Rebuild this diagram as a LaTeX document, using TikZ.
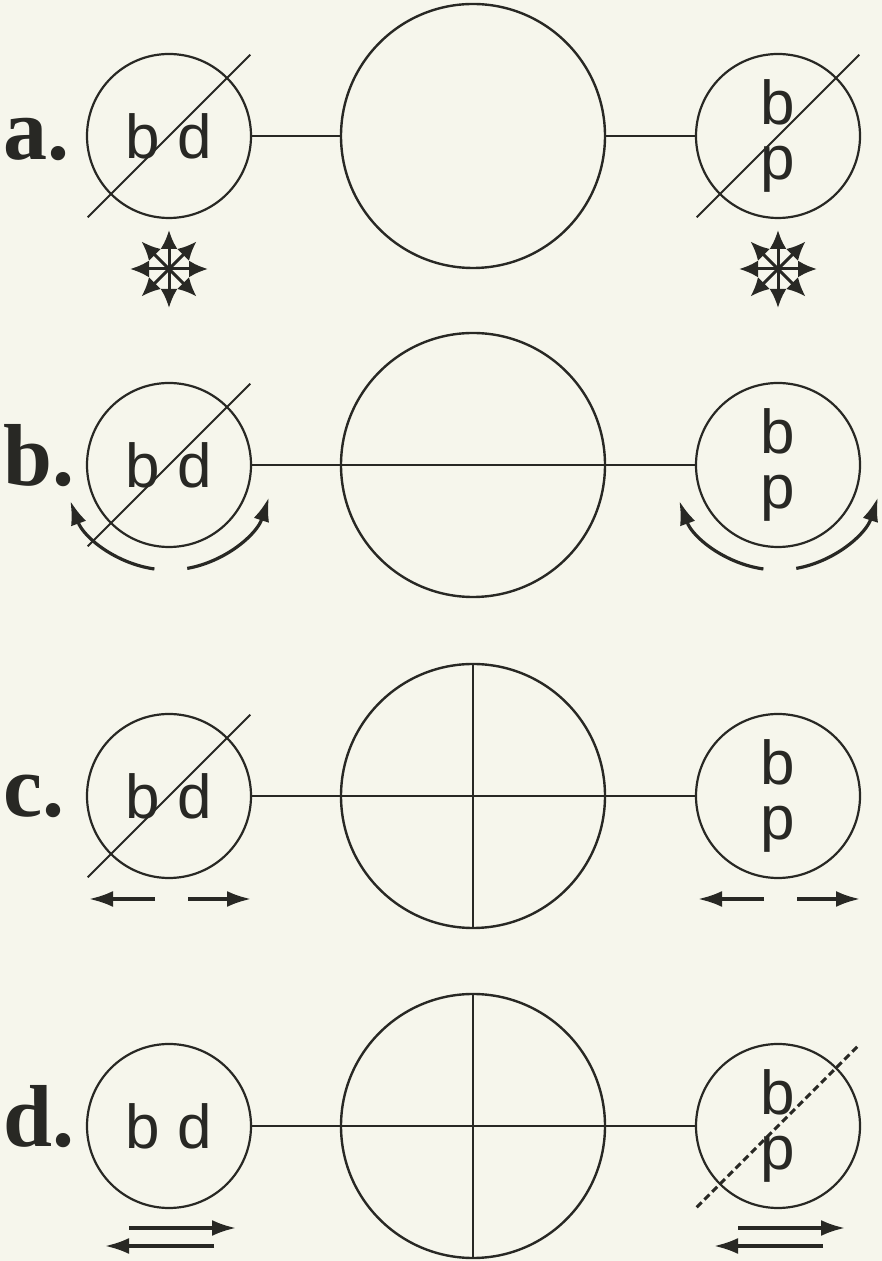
\documentclass[tikz,border=0pt]{standalone}
\usepackage{fontspec}
\usetikzlibrary{arrows.meta,calc}
\newfontfamily\glyphfont{Liberation Sans}
\newfontfamily\labelfont{Liberation Serif}
\definecolor{paper}{RGB}{246,246,236}
\definecolor{ink}{RGB}{40,40,36}

\begin{document}
\begin{tikzpicture}[
  x=1pt, y=1pt,
  ring/.style={
    circle,
    draw=ink,
    line width=2.2pt,
    inner sep=0pt,
    minimum size=164pt,
    align=center,
    text=ink,
    font=\glyphfont\fontsize{62}{55}\selectfont
  },
  globe/.style={circle, draw=ink, line width=2.4pt, inner sep=0pt, minimum size=264pt},
  tag/.style={anchor=base west, inner sep=0pt, text=ink,
    font=\labelfont\bfseries\fontsize{88}{88}\selectfont},
  link/.style={draw=ink, line width=2.2pt},
  slash/.style={draw=ink, line width=1.8pt},
  dotslash/.style={draw=ink, line width=3pt, dash pattern=on 7pt off 4pt},
  spoke/.style={draw=ink, line width=3pt, -{Latex[length=19pt,width=17pt]}},
  move/.style={draw=ink, line width=3.2pt, -{Latex[length=24pt,width=16pt]}}
]
  \fill[paper] (0,0) rectangle (882,1261);
  \useasboundingbox (0,0) rectangle (882,1261);

  % a. -- spread in all directions
  \node[tag] (labA) at (3,1101) {a.};
  \node[ring] (La) at (169,1125) {b d};
  \node[globe] (Ca) at (473,1125) {};
  \node[ring] (Ra) at (778,1125) {b\\p};
  \draw[link] (La) -- (Ca);
  \draw[link] (Ca) -- (Ra);
  \draw[slash] ($(La.center)+(225:115)$) -- ($(La.center)+(45:115)$);
  \draw[slash] ($(Ra.center)+(225:115)$) -- ($(Ra.center)+(45:115)$);
  \coordinate (starL) at ($(La.center)+(0,-133)$);
  \coordinate (starR) at ($(Ra.center)+(0,-133)$);
  \foreach \ang in {0,45,...,315} {
    \draw[spoke] (starL) -- ++(\ang:39);
    \draw[spoke] (starR) -- ++(\ang:39);
  }

  % b. -- turning
  \node[tag] (labB) at (3,775) {b.};
  \node[ring] (Lb) at (169,796) {b d};
  \node[globe] (Cb) at (473,796) {};
  \node[ring] (Rb) at (778,796) {b\\p};
  \draw[link] (Lb.east) -- (Rb.west);
  \draw[slash] ($(Lb.center)+(225:115)$) -- ($(Lb.center)+(45:115)$);
  \draw[move] ($(Lb.center)+(262:105)$) arc[start angle=262, end angle=200, radius=105];
  \draw[move] ($(Lb.center)+(280:105)$) arc[start angle=280, end angle=342, radius=105];
  \draw[move] ($(Rb.center)+(262:105)$) arc[start angle=262, end angle=200, radius=105];
  \draw[move] ($(Rb.center)+(280:105)$) arc[start angle=280, end angle=342, radius=105];

  % c. -- apart
  \node[tag] (labC) at (3,444) {c.};
  \node[ring] (Lc) at (169,465) {b d};
  \node[globe] (Cc) at (473,465) {};
  \node[ring] (Rc) at (778,465) {b\\p};
  \draw[link] (Lc.east) -- (Rc.west);
  \draw[link] (Cc.north) -- (Cc.south);
  \draw[slash] ($(Lc.center)+(225:115)$) -- ($(Lc.center)+(45:115)$);
  \draw[move] ($(Lc.center)+(-14,-103)$) -- ++(-66,0);
  \draw[move] ($(Lc.center)+(19,-103)$) -- ++(63,0);
  \draw[move] ($(Rc.center)+(-14,-103)$) -- ++(-66,0);
  \draw[move] ($(Rc.center)+(19,-103)$) -- ++(63,0);

  % d. -- back and forth
  \node[tag] (labD) at (3,114) {d.};
  \node[ring] (Ld) at (169,135) {b d};
  \node[globe] (Cd) at (473,135) {};
  \node[ring] (Rd) at (778,135) {b\\p};
  \draw[link] (Ld.east) -- (Rd.west);
  \draw[link] (Cd.north) -- (Cd.south);
  \draw[dotslash] ($(Rd.center)+(225:115)$) -- ($(Rd.center)+(45:115)$);
  \draw[move] ($(Ld.center)+(-40,-102)$) -- ++(107,0);
  \draw[move] ($(Ld.center)+(45,-120)$) -- ++(-109,0);
  \draw[move] ($(Rd.center)+(-40,-102)$) -- ++(107,0);
  \draw[move] ($(Rd.center)+(45,-120)$) -- ++(-109,0);
\end{tikzpicture}
\end{document}
